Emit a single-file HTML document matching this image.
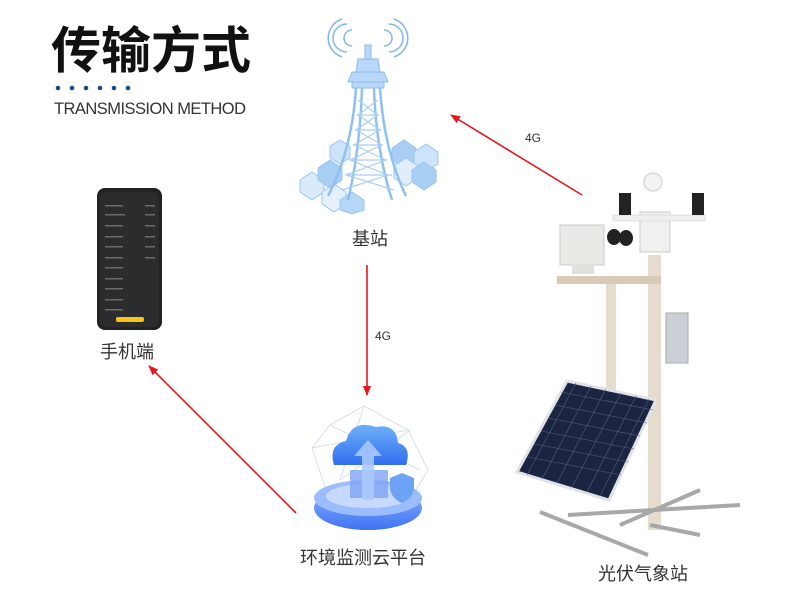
<!DOCTYPE html>
<html><head><meta charset="utf-8"><style>
body{margin:0;background:#fff;}
svg{display:block;}
text{font-family:"Liberation Sans","Noto Sans CJK SC",sans-serif;}
</style></head><body>
<svg width="800" height="600" viewBox="0 0 800 600" xmlns="http://www.w3.org/2000/svg">
<defs>
<marker id="ah" markerWidth="10" markerHeight="10" refX="9" refY="5" orient="auto" markerUnits="userSpaceOnUse"><path d="M0,1 L10,5 L0,9 Z" fill="#e8161b"/></marker>
<linearGradient id="cl" x1="0" y1="0" x2="0" y2="1"><stop offset="0" stop-color="#6fb0f7"/><stop offset="1" stop-color="#2f6ff0"/></linearGradient>
<linearGradient id="bs" x1="0" y1="0" x2="0" y2="1"><stop offset="0" stop-color="#8fb6ff"/><stop offset="1" stop-color="#3f73f2"/></linearGradient>
</defs>
<!-- title -->
<text x="51" y="68" font-size="50" font-weight="bold" fill="#111" font-family="Noto Sans CJK SC,sans-serif">传输方式</text>
<g fill="#1a4a8c"><circle cx="58" cy="88" r="2.3"/><circle cx="72" cy="88" r="2.3"/><circle cx="86" cy="88" r="2.3"/><circle cx="100" cy="88" r="2.3"/><circle cx="114" cy="88" r="2.3"/><circle cx="128" cy="88" r="2.3"/></g>
<text x="54" y="114" font-size="16.5" fill="#333" textLength="192">TRANSMISSION METHOD</text>

<!-- tower -->
<g fill="none" stroke="#7fb6ee" stroke-width="1.5">
<path d="M352,30 a8,8 0 0,0 0,16 M347,24 a14,14 0 0,0 0,28 M342,19 a20,20 0 0,0 0,38"/>
<path d="M384,30 a8,8 0 0,1 0,16 M389,24 a14,14 0 0,1 0,28 M394,19 a20,20 0 0,1 0,38"/>
</g>
<g fill="#cde3fa" stroke="#9cc7f2" stroke-width="1">
<polygon points="330,146 340,140 350,146 350,158 340,164 330,158"/>
<polygon points="300,180 312,172 324,180 324,192 312,200 300,192" fill="#d9eafc"/>
<polygon points="322,192 334,184 346,192 346,204 334,212 322,204" fill="#e4f0fd"/>
<polygon points="340,200 352,192 364,200 364,210 352,214 340,210" fill="#b6d6f6"/>
<polygon points="392,148 404,140 416,148 416,160 404,168 392,160" fill="#a9cff4"/>
<polygon points="414,152 426,144 438,152 438,164 426,172 414,164"/>
<polygon points="394,166 406,158 418,166 418,178 406,186 394,178" fill="#e0eefc"/>
<polygon points="412,170 424,162 436,170 436,182 424,190 412,182" fill="#a9cff4"/>
<polygon points="318,168 330,160 342,168 342,180 330,188 318,180" fill="#a9cff4"/>
</g>
<g fill="#b9d7f6" stroke="#88bbee" stroke-width="1">
<rect x="365" y="45" width="6" height="14"/>
<polygon points="358,59 378,59 380,72 356,72"/>
<polygon points="352,72 384,72 388,82 348,82"/>
<polygon points="352,82 384,82 384,88 352,88"/>
</g>
<g stroke="#8ec0f0" stroke-width="2.5" fill="none">
<path d="M356,88 Q352,150 328,196 M380,88 Q384,150 406,196"/>
<path d="M362,88 Q360,150 348,200 M374,88 Q376,150 392,200"/>
</g>
<g stroke="#a9cff4" stroke-width="1.2" fill="none">
<path d="M358,100 L378,115 L356,130 L382,145 L350,160 L388,175 L342,190 M378,100 L358,115 L380,130 L354,145 L386,160 L346,175 L394,190"/>
<path d="M357,115 H379 M355,130 H381 M353,145 H383 M350,160 H387 M346,175 H392"/>
</g>
<text x="352" y="245" font-size="18" fill="#333">基站</text>

<!-- phone -->
<rect x="97" y="188" width="65" height="142" rx="8" fill="#222"/>
<rect x="100" y="192" width="59" height="135" rx="6" fill="#2c2c2e"/>
<g fill="#6c6c70">
<rect x="105" y="205" width="18" height="1.5"/><rect x="105" y="214" width="20" height="1.5"/><rect x="105" y="225" width="18" height="1.5"/><rect x="105" y="236" width="18" height="1.5"/><rect x="105" y="246" width="18" height="1.5"/><rect x="105" y="257" width="18" height="1.5"/><rect x="105" y="267" width="18" height="1.5"/><rect x="105" y="278" width="18" height="1.5"/><rect x="105" y="288" width="18" height="1.5"/><rect x="105" y="299" width="18" height="1.5"/><rect x="105" y="309" width="18" height="1.5"/>
<rect x="145" y="205" width="10" height="1.5"/><rect x="145" y="214" width="10" height="1.5"/><rect x="145" y="225" width="10" height="1.5"/><rect x="145" y="236" width="10" height="1.5"/><rect x="145" y="246" width="10" height="1.5"/><rect x="145" y="257" width="10" height="1.5"/>
</g>
<rect x="116" y="317" width="28" height="5" rx="2" fill="#f5c518"/>
<text x="100" y="358" font-size="18" fill="#333">手机端</text>

<!-- cloud platform -->
<g stroke="#cfd8e8" stroke-width="0.8" fill="none">
<polygon points="364,406 408,430 428,470 410,500 330,502 312,448 330,425"/>
<path d="M364,406 L340,480 L410,430 M330,425 L420,470 M312,448 L408,430"/>
</g>
<ellipse cx="368" cy="508" rx="54" ry="22" fill="url(#bs)"/>
<ellipse cx="368" cy="498" rx="54" ry="18" fill="#9bbcff"/>
<ellipse cx="368" cy="496" rx="42" ry="12" fill="#c8d9ff"/>
<rect x="350" y="470" width="38" height="28" fill="#7fa4f6" opacity="0.8"/>
<path d="M334,465 q-6,-20 12,-24 q6,-22 30,-14 q20,-4 22,16 q14,4 8,22 Z" fill="url(#cl)"/>
<polygon points="368,440 382,456 374,456 374,500 362,500 362,456 354,456" fill="#a9c9ff" opacity="0.9"/>
<path d="M390,478 l12,-5 l12,5 v8 q0,12 -12,17 q-12,-5 -12,-17 Z" fill="#6ea2f5"/>
<text x="300" y="564" font-size="18" fill="#333">环境监测云平台</text>

<!-- weather station -->
<g>
<rect x="648" y="255" width="13" height="275" fill="#e6dccd"/>
<rect x="606" y="280" width="10" height="110" fill="#e6dccd"/>
<rect x="557" y="276" width="104" height="8" fill="#d9cbb8"/>
<rect x="560" y="225" width="44" height="40" fill="#e9e9e6" stroke="#ccc"/>
<rect x="572" y="264" width="22" height="10" fill="#e0e0dc"/>
<ellipse cx="614" cy="237" rx="7" ry="8" fill="#222"/><ellipse cx="626" cy="238" rx="7" ry="8" fill="#222"/>
<rect x="640" y="212" width="30" height="40" fill="#f0f0ee" stroke="#ccc"/>
<rect x="613" y="215" width="92" height="6" fill="#eee" stroke="#ccc" stroke-width="0.5"/>
<rect x="619" y="193" width="12" height="22" fill="#222"/><rect x="692" y="193" width="12" height="22" fill="#222"/>
<circle cx="653" cy="182" r="9" fill="#f3f3f3" stroke="#ccc"/>
<rect x="666" y="313" width="22" height="50" fill="#c9cfd4" stroke="#aaa"/>
<!-- base -->
<g stroke="#a7a9a8" stroke-width="4" fill="none">
<path d="M540,512 L648,555 M568,515 L740,505 M620,525 L700,490 M650,525 L700,535"/>
</g>
<polygon points="567,381 656,400 609,500 517,472" fill="#1b2440" stroke="#dfe2e6" stroke-width="3"/>
<g stroke="#56627e" stroke-width="0.6">
<path d="M576,383 L527,475 M591,386 L542,479 M606,389 L557,483 M621,393 L572,487 M636,396 L587,492 M649,399 L600,496"/>
<path d="M561,392 L653,410 M555,405 L647,423 M548,418 L640,436 M541,431 L634,449 M535,444 L628,462 M528,457 L621,475"/>
</g>
<text x="598" y="580" font-size="18" fill="#333">光伏气象站</text>
</g>

<!-- arrows -->
<line x1="582" y1="195" x2="451" y2="115" stroke="#e8161b" stroke-width="1.6" marker-end="url(#ah)"/>
<text x="525" y="142" font-size="12" fill="#333">4G</text>
<line x1="367" y1="265" x2="367" y2="395" stroke="#e8161b" stroke-width="1.6" marker-end="url(#ah)"/>
<text x="375" y="340" font-size="12" fill="#333">4G</text>
<line x1="296" y1="513" x2="149" y2="366" stroke="#e8161b" stroke-width="1.6" marker-end="url(#ah)"/>
</svg>
</body></html>
